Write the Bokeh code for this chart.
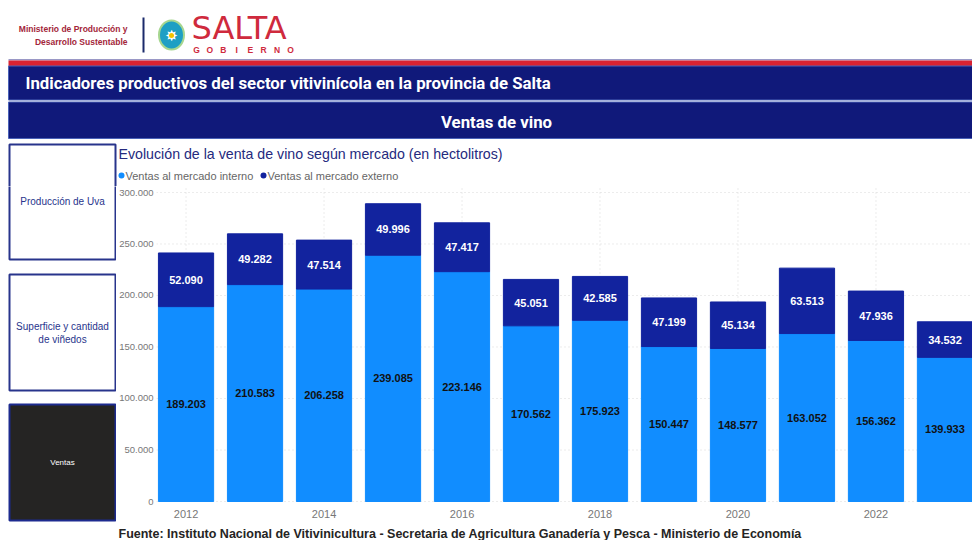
from bokeh.plotting import figure
from bokeh.layouts import column, row
from bokeh.models import (ColumnDataSource, FixedTicker, CustomJSTickFormatter, Range1d)
from bokeh.core.properties import value
from bokeh.embed import file_html
from bokeh.resources import INLINE

# ---------------- data ----------------
years = [2012, 2013, 2014, 2015, 2016, 2017, 2018, 2019, 2020, 2021, 2022, 2023]
interno = [189203, 210583, 206258, 239085, 223146, 170562, 175923, 150447, 148577, 163052, 156362, 139933]
externo = [52090, 49282, 47514, 49996, 47417, 45051, 42585, 47199, 45134, 63513, 47936, 34532]
x_ticks = [2012, 2014, 2016, 2018, 2020, 2022]
y_ticks = [0, 50000, 100000, 150000, 200000, 250000, 300000]
series_names = ["Ventas al mercado interno", "Ventas al mercado externo"]

C_INT = "#118DFF"
C_EXT = "#12239E"
NAVY = "#10197a"
BTN = "#28348c"
RED = "#cf2a3d"
FONT = "Liberation Sans"
Y_MIN, Y_MAX = -22330, 305825


def fmt(v):
    return f"{v:,}".replace(",", ".")


src = ColumnDataSource(dict(
    year=years,
    interno=interno,
    externo=externo,
    y_int=[i / 2 for i in interno],
    y_ext=[i + e / 2 for i, e in zip(interno, externo)],
    t_int=[fmt(v) for v in interno],
    t_ext=[fmt(v) for v in externo],
))


def panel(x0, x1, y0, y1):
    """A decoration figure whose data units are page pixels (y downward)."""
    f = figure(width=x1 - x0, height=y1 - y0, output_backend="svg", toolbar_location=None,
               x_range=Range1d(x0, x1), y_range=Range1d(y1, y0),
               x_axis_type=None, y_axis_type=None, min_border=0)
    f.outline_line_color = None
    f.grid.visible = False
    f.background_fill_color = "white"
    f.border_fill_color = "white"
    return f


def txt(f, x, y, s, size, color, font=FONT, style="normal", align="left",
        baseline="middle"):
    xs = x if isinstance(x, list) else [x]
    ss = s if isinstance(s, list) else [s] * len(xs)
    f.text(x=xs, y=[y] * len(xs), text=ss, text_font=value(font),
           text_font_size=f"{size}px", text_color=color, text_font_style=style,
           text_align=align, text_baseline=baseline)


def rect(f, l, t, r, b, fill, line=None, lw=0):
    f.quad(left=[l], right=[r], top=[t], bottom=[b], fill_color=fill,
           line_color=line, line_width=lw)


# ---------------- header (page y 0..186) ----------------
hd = panel(0, 972, 0, 186)
txt(hd, 127, 28, "Ministerio de Producción y", 8.5, "#a3263a", style="bold", align="right")
txt(hd, 127, 41, "Desarrollo Sustentable", 8.5, "#a3263a", style="bold", align="right")
rect(hd, 142, 17, 144, 52, "#1b2a6b")
hd.ellipse(x=[171], y=[34.5], width=25, height=29, fill_color="#1e9fc4",
           line_color="#a6d68f", line_width=2)
txt(hd, 171, 35, "✸", 15, "white", font="DejaVu Sans", align="center")
hd.scatter(x=[171], y=[35], size=5, marker="circle", fill_color="#f2c200", line_color=None)
txt(hd, 191, 27, "SALTA", 32, RED, font="DejaVu Sans")
gob = list("GOBIERNO")
txt(hd, [196 + 13.43 * i for i in range(len(gob))], 49, gob, 8.5, RED, style="bold",
    align="center", baseline="alphabetic")

rect(hd, 8, 58.5, 972, 60, "#9a98c6")
rect(hd, 8, 60, 972, 65.5, "#d92231")
rect(hd, 8, 65.5, 972, 99.5, NAVY, line="#4a62b8", lw=1)
rect(hd, 8, 101.5, 972, 138, NAVY, line="#4a62b8", lw=1)
txt(hd, 25, 82, "Indicadores productivos del sector vitivinícola en la provincia de Salta",
    16.8, "white", font="Roboto", style="bold")
txt(hd, 496, 121, "Ventas de vino", 16.8, "white", font="Roboto",
    style="bold", align="center")

# top part of first button
rect(hd, 9, 144, 115, 200, "white", line=BTN, lw=2)

# chart title and legend
txt(hd, 118, 153, "Evolución de la venta de vino según mercado (en hectolitros)", 14.2,
    "#252a7e")
hd.scatter(x=[121, 263], y=[175, 175], size=6, marker="circle",
           fill_color=[C_INT, C_EXT], line_color=None)
txt(hd, 125, 175, series_names[0], 11, "#666666")
txt(hd, 267, 175, series_names[1], 11, "#666666")

# ---------------- left navigation (page x 0..116, y 186..524) ----------------
lf = panel(0, 116, 186, 524)
rect(lf, 9, 170, 115, 259, "white", line=BTN, lw=2)
txt(lf, 62, 201, "Producción de Uva", 10, BTN, align="center")
rect(lf, 9, 274, 115, 390, "white", line=BTN, lw=2)
txt(lf, 62, 326, "Superficie y cantidad", 10, BTN, align="center")
txt(lf, 62, 339, "de viñedos", 10, BTN, align="center")
rect(lf, 9, 404, 115, 520, "#252423", line="#1d2b8f", lw=2)
txt(lf, 62, 462, "Ventas", 8, "white", align="center")

# ---------------- chart (page x 116..972, y 186..524) ----------------
p = figure(width=856, height=338, output_backend="svg", toolbar_location=None,
           x_range=Range1d(2011.572, 2023.399), y_range=Range1d(Y_MIN, Y_MAX),
           x_axis_location=None,
           min_border_left=39, min_border_right=0, min_border_top=0,
           min_border_bottom=0)
p.outline_line_color = None
p.background_fill_color = "white"
p.border_fill_color = "white"

# grid lines (dotted) from the tick lists
p.segment(x0=[2011.572] * len(y_ticks), x1=[2023.399] * len(y_ticks), y0=y_ticks,
          y1=y_ticks, line_color="#d8d8d8", line_dash="1 3", line_width=1)
p.segment(x0=x_ticks, x1=x_ticks, y0=[0] * len(x_ticks), y1=[Y_MAX] * len(x_ticks),
          line_color="#d8d8d8", line_dash="1 3", line_width=1)

p.vbar_stack(["interno", "externo"], x="year", width=0.8, color=[C_INT, C_EXT],
             line_color=[C_INT, C_EXT], source=src)

p.text(x="year", y="y_int", text="t_int", source=src, text_align="center",
       text_baseline="middle", text_color="#111111", text_font=value(FONT),
       text_font_size="11px", text_font_style="bold")
p.text(x="year", y="y_ext", text="t_ext", source=src, text_align="center",
       text_baseline="middle", text_color="white", text_font=value(FONT),
       text_font_size="11px", text_font_style="bold")

# x tick labels (below the zero line)
p.text(x=x_ticks, y=[0] * len(x_ticks), text=[str(t) for t in x_ticks], y_offset=12,
       text_align="center", text_baseline="middle", text_color="#777777",
       text_font=value(FONT), text_font_size="11px")

p.yaxis.ticker = FixedTicker(ticks=y_ticks)
p.yaxis.formatter = CustomJSTickFormatter(
    code="return Math.round(tick).toString().replace(/\\B(?=(\\d{3})+(?!\\d))/g, '.');")
ax = p.yaxis[0]
ax.axis_line_color = None
ax.major_tick_line_color = None
ax.minor_tick_line_color = None
ax.major_tick_out = 0
ax.major_tick_in = 0
ax.minor_tick_out = 0
ax.minor_tick_in = 0
ax.major_label_text_color = "#777777"
ax.major_label_text_font = FONT
ax.major_label_text_font_size = "9.5px"
ax.major_label_standoff = 3
p.grid.visible = False

# ---------------- footer (page y 524..540) ----------------
ft = panel(0, 972, 524, 540)
txt(ft, 118, 540, "Fuente: Instituto Nacional de Vitivinicultura - Secretaria de Agricultura "
    "Ganadería y Pesca - Ministerio de Economía", 12.5, "#252423", style="bold",
    baseline="bottom")

layout = column(hd, row(lf, p, spacing=0), ft, spacing=0)
open("out.html", "w").write(file_html(layout, INLINE))
